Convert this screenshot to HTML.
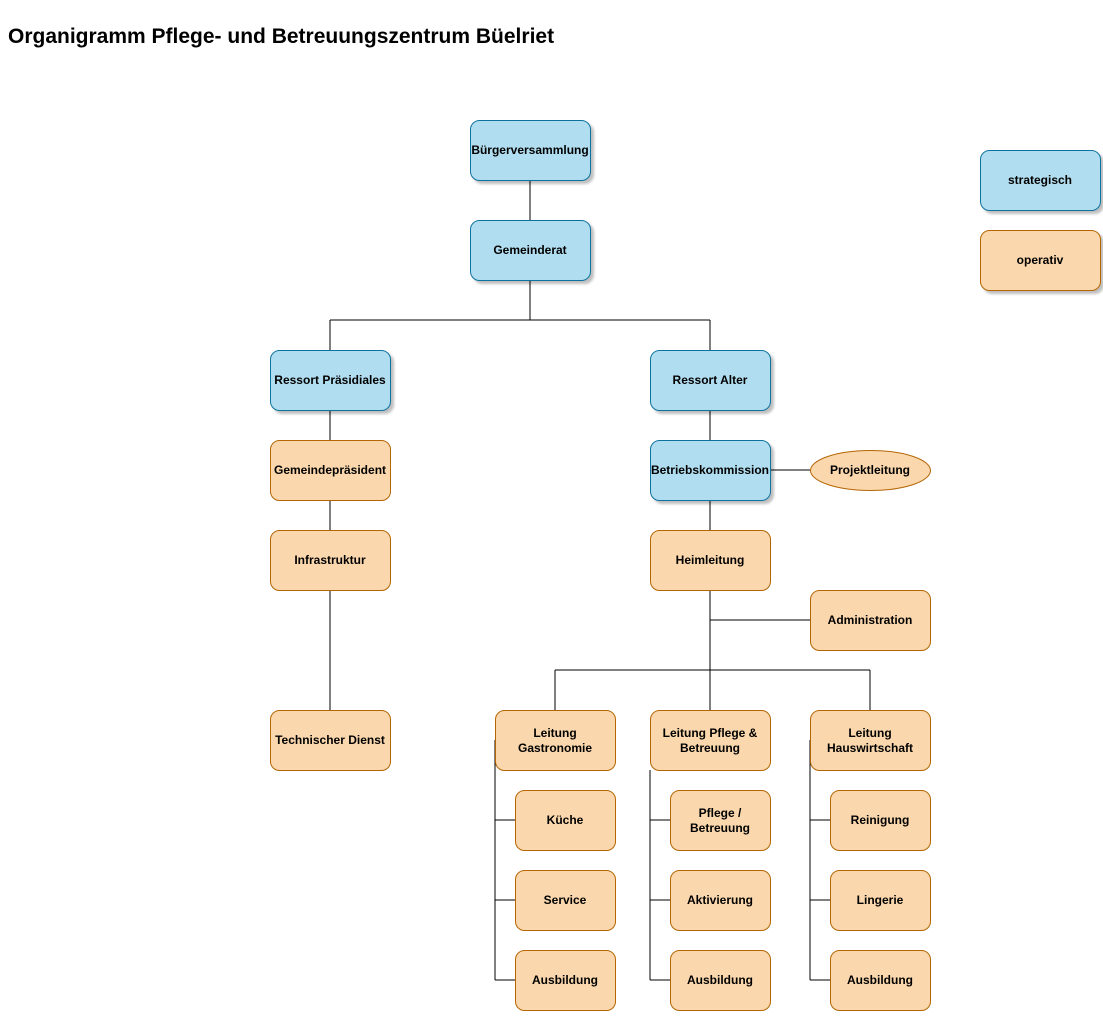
<!DOCTYPE html>
<html><head><meta charset="utf-8"><style>
body{margin:0;background:#fff;width:1103px;height:1011px;overflow:hidden}
svg text{font-family:"Liberation Sans",sans-serif;font-weight:bold;font-size:12px;text-anchor:middle;fill:#000}
</style></head><body>
<svg width="1103" height="1011" xmlns="http://www.w3.org/2000/svg">
<defs><filter id="sh" x="-10%" y="-10%" width="130%" height="130%"><feDropShadow dx="3" dy="3" stdDeviation="1.2" flood-color="#000" flood-opacity="0.25"/></filter></defs>
<text x="8" y="43" style="font-size:21px;text-anchor:start">Organigramm Pflege- und Betreuungszentrum Büelriet</text>
<g stroke="#000" stroke-width="1" fill="none">
<path d="M530 180V220M530 280V320M330 320H710M330 320V350M710 320V350"/>
<path d="M330 410V440M330 500V530M330 590V710"/>
<path d="M710 410V440M710 500V530M710 590V670M710 620H810M770 470H810M555 670H870M555 670V710M710 670V710M870 670V710"/>
<path d="M495 740V980M495 820H515M495 900H515M495 980H515"/>
<path d="M650 770V980M650 820H670M650 900H670M650 980H670"/>
<path d="M810 740V980M810 820H830M810 900H830M810 980H830"/>
</g>
<g fill="#b1ddf0" stroke="#10739e" filter="url(#sh)">
<rect x="470.5" y="120.5" width="120" height="60" rx="9"/>
<rect x="470.5" y="220.5" width="120" height="60" rx="9"/>
<rect x="270.5" y="350.5" width="120" height="60" rx="9"/>
<rect x="650.5" y="350.5" width="120" height="60" rx="9"/>
<rect x="650.5" y="440.5" width="120" height="60" rx="9"/>
<rect x="980.5" y="150.5" width="120" height="60" rx="9"/>
</g>
<g fill="#fad7ac" stroke="#b46504">
<rect x="980.5" y="230.5" width="120" height="60" rx="9" filter="url(#sh)"/>
<rect x="270.5" y="440.5" width="120" height="60" rx="9"/>
<rect x="270.5" y="530.5" width="120" height="60" rx="9"/>
<rect x="270.5" y="710.5" width="120" height="60" rx="9"/>
<rect x="650.5" y="530.5" width="120" height="60" rx="9"/>
<rect x="810.5" y="590.5" width="120" height="60" rx="9"/>
<ellipse cx="870.5" cy="470.5" rx="60" ry="20"/>
<rect x="495.5" y="710.5" width="120" height="60" rx="9"/>
<rect x="650.5" y="710.5" width="120" height="60" rx="9"/>
<rect x="810.5" y="710.5" width="120" height="60" rx="9"/>
<rect x="515.5" y="790.5" width="100" height="60" rx="9"/>
<rect x="515.5" y="870.5" width="100" height="60" rx="9"/>
<rect x="515.5" y="950.5" width="100" height="60" rx="9"/>
<rect x="670.5" y="790.5" width="100" height="60" rx="9"/>
<rect x="670.5" y="870.5" width="100" height="60" rx="9"/>
<rect x="670.5" y="950.5" width="100" height="60" rx="9"/>
<rect x="830.5" y="790.5" width="100" height="60" rx="9"/>
<rect x="830.5" y="870.5" width="100" height="60" rx="9"/>
<rect x="830.5" y="950.5" width="100" height="60" rx="9"/>
</g>
<text x="530" y="154">Bürgerversammlung</text>
<text x="530" y="254">Gemeinderat</text>
<text x="330" y="384">Ressort Präsidiales</text>
<text x="710" y="384">Ressort Alter</text>
<text x="710" y="474">Betriebskommission</text>
<text x="1040" y="184">strategisch</text>
<text x="1040" y="264">operativ</text>
<text x="330" y="474">Gemeindepräsident</text>
<text x="330" y="564">Infrastruktur</text>
<text x="330" y="744">Technischer Dienst</text>
<text x="710" y="564">Heimleitung</text>
<text x="870" y="624">Administration</text>
<text x="870" y="474">Projektleitung</text>
<text x="555" y="737">Leitung</text><text x="555" y="752">Gastronomie</text>
<text x="710" y="737">Leitung Pflege &amp;</text><text x="710" y="752">Betreuung</text>
<text x="870" y="737">Leitung</text><text x="870" y="752">Hauswirtschaft</text>
<text x="565" y="824">Küche</text>
<text x="565" y="904">Service</text>
<text x="565" y="984">Ausbildung</text>
<text x="720" y="817">Pflege /</text><text x="720" y="832">Betreuung</text>
<text x="720" y="904">Aktivierung</text>
<text x="720" y="984">Ausbildung</text>
<text x="880" y="824">Reinigung</text>
<text x="880" y="904">Lingerie</text>
<text x="880" y="984">Ausbildung</text>
</svg>
</body></html>
